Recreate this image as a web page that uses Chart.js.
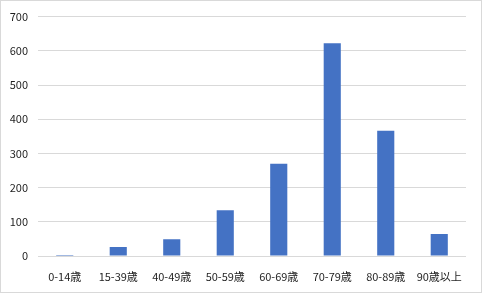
<!DOCTYPE html>
<html>
<head>
<meta charset="utf-8">
<script src="https://cdn.jsdelivr.net/npm/chart.js@4"></script>
<style>
  body { margin: 0; background: #fff; }
</style>
</head>
<body>
<canvas id="myChart" width="482" height="293"></canvas>
<script>
const ageGroups = ['0-14歳', '15-39歳', '40-49歳', '50-59歳', '60-69歳', '70-79歳', '80-89歳', '90歳以上'];
const counts = [3, 26, 49, 134, 270, 622, 366, 64];
const yTicks = [0, 100, 200, 300, 400, 500, 600, 700];

// white background + thin frame like the spreadsheet chart
const frame = {
  id: 'frame',
  beforeDraw(chart) {
    const ctx = chart.ctx;
    ctx.save();
    ctx.fillStyle = '#fff';
    ctx.fillRect(0, 0, chart.width, chart.height);
    ctx.strokeStyle = '#d9d9d9';
    ctx.lineWidth = 1;
    ctx.strokeRect(0.5, 0.5, chart.width - 1, chart.height - 1);
    ctx.restore();
  }
};

new Chart(document.getElementById('myChart').getContext('2d'), {
  type: 'bar',
  data: {
    labels: ageGroups,
    datasets: [{
      data: counts,
      backgroundColor: '#4472c4',
      barPercentage: 0.64,
      categoryPercentage: 0.5
    }]
  },
  options: {
    responsive: false,
    animation: false,
    layout: { padding: { top: 15, right: 16, bottom: 7, left: 0 } },
    plugins: { legend: { display: false }, tooltip: { enabled: false } },
    scales: {
      x: {
        grid: { display: false },
        border: { display: false },
        ticks: { color: '#1e1e1e', font: { family: '"Noto Sans CJK JP", sans-serif', size: 11 }, padding: 6, maxRotation: 0 },
        afterFit(scale) { scale.height = 30; }
      },
      y: {
        min: 0,
        max: 700,
        afterBuildTicks(scale) { scale.ticks = yTicks.map(v => ({ value: v })); },
        grid: { color: '#d9d9d9', drawTicks: false },
        border: { display: false },
        ticks: { color: '#1e1e1e', font: { family: '"Noto Sans CJK JP", sans-serif', size: 11 }, padding: 10 },
        afterFit(scale) { scale.width = 38; }
      }
    }
  },
  plugins: [frame]
});
</script>
</body>
</html>
